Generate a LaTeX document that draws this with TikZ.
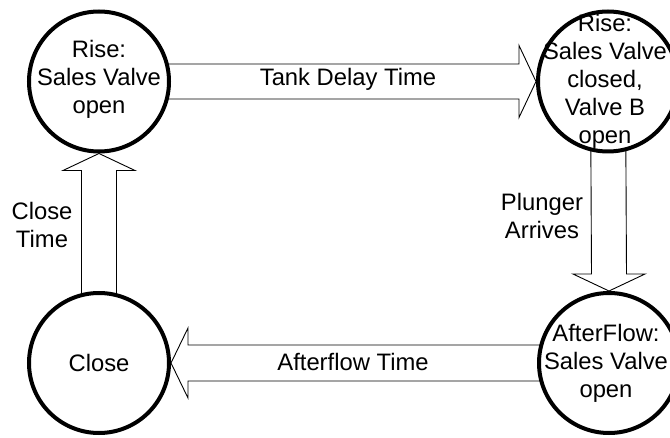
\documentclass[tikz,border=0pt]{standalone}
\usepackage{fontspec}
\setmainfont{Liberation Sans}
\usetikzlibrary{calc}
\pgfdeclarelayer{bg}
\pgfsetlayers{bg,main}
\begin{document}
\begin{tikzpicture}[x=1pt,y=-1pt,
 state/.style={circle,draw,line width=4pt,minimum size=140pt,inner sep=0pt,outer sep=2pt,fill=white},
 txt/.style={align=center,font=\fontsize{23.8}{28}\selectfont,inner sep=0pt},
 fatarrow/.style={draw,line width=0.9pt,fill=white,line join=miter}]
\useasboundingbox (0,0) rectangle (670,438);
\node[state] (c1) at (99,81.5) {};
\node[state] (c2) at (608,81.5) {};
\node[state] (c3) at (609,363) {};
\node[state] (c4) at (99,363) {};
\node[txt] (t1) at ([yshift=2pt]c1.center) {Rise:\\Sales Valve\\open};
\node[txt] (t2) at ([xshift=-3pt]c2.center) {Rise:\\Sales Valve\\closed,\\Valve B\\open};
\node[txt] (t3) at ([xshift=-3pt]c3.center) {AfterFlow:\\Sales Valve\\open};
\node[txt] (t4) at (c4) {Close};
\node[txt] (l1) at (348,79) {Tank Delay Time};
\node[txt] (l2) at (353,362) {Afterflow Time};
\node[txt] (l3) at (42,225) {Close\\Time};
\node[txt] (l4) at (542,216) {Plunger\\Arrives};
\begin{pgfonlayer}{bg}
\draw[fatarrow] ($(c1.center)+(0,-17.5)$) -- ($(c2.west)+(-17,-17.5)$) -- ($(c2.west)+(-17,-36)$) -- (c2.west) -- ($(c2.west)+(-17,36)$) -- ($(c2.west)+(-17,17.5)$) -- ($(c1.center)+(0,17.5)$);
\draw[fatarrow] ($(c2.center)+(-17.5,0)$) -- ($(c3.north)+(-17.5,-17)$) -- ($(c3.north)+(-36,-17)$) -- (c3.north) -- ($(c3.north)+(36,-17)$) -- ($(c3.north)+(17.5,-17)$) -- ($(c2.center)+(17.5,0)$);
\draw[fatarrow] ($(c3.center)+(0,-18)$) -- ($(c4.east)+(17,-18)$) -- ($(c4.east)+(17,-35)$) -- (c4.east) -- ($(c4.east)+(17,35)$) -- ($(c4.east)+(17,18)$) -- ($(c3.center)+(0,18)$);
\draw[fatarrow] ($(c4.center)+(-17.5,0)$) -- ($(c1.south)+(-17.5,17)$) -- ($(c1.south)+(-36,17)$) -- (c1.south) -- ($(c1.south)+(36,17)$) -- ($(c1.south)+(17.5,17)$) -- ($(c4.center)+(17.5,0)$);
\end{pgfonlayer}
\end{tikzpicture}
\end{document}
